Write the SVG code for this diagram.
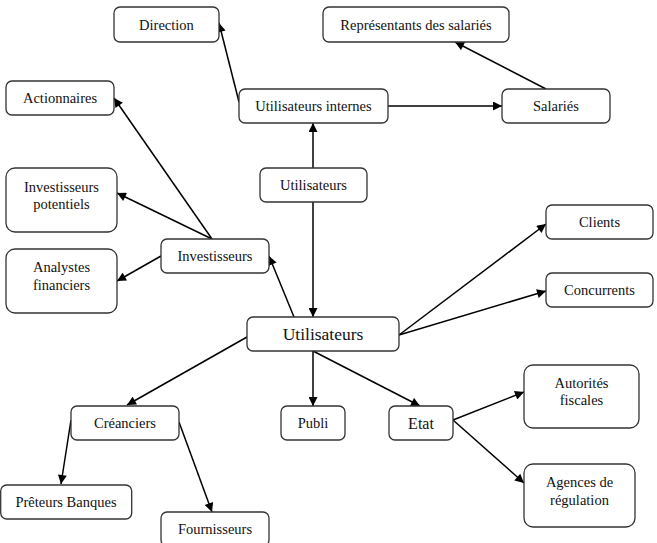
<svg xmlns="http://www.w3.org/2000/svg" width="657" height="543" viewBox="0 0 657 543">
<style>
rect{fill:#fff;stroke:#333;stroke-width:1.3}
text{font-family:'Liberation Serif',Tinos,'Times New Roman','DejaVu Serif',serif;font-size:14.5px;fill:#111;text-anchor:middle}
.big{font-size:17.5px}
#connectors line{stroke:#000;stroke-width:1.5;marker-end:url(#ah)}
</style>
<defs>
<marker id="ah" viewBox="0 0 10 10" refX="10" refY="5" markerWidth="7" markerHeight="6" markerUnits="strokeWidth" orient="auto"><path d="M0,0L10,5L0,10z" fill="#000"/></marker>
</defs>
<rect width="657" height="543" fill="#fff" style="stroke:none"/>
<g id="connectors">
<line x1="239" y1="102" x2="219" y2="23"/>
<line x1="388" y1="106" x2="502" y2="106"/>
<line x1="546" y1="89" x2="455" y2="42"/>
<line x1="313" y1="168" x2="313" y2="123"/>
<line x1="313" y1="202" x2="313" y2="317"/>
<line x1="212" y1="239" x2="114" y2="98"/>
<line x1="212" y1="239" x2="117" y2="193"/>
<line x1="161" y1="256" x2="117" y2="281"/>
<line x1="294" y1="317" x2="269" y2="256"/>
<line x1="399" y1="335" x2="546" y2="224"/>
<line x1="399" y1="335" x2="546" y2="291"/>
<line x1="247" y1="337" x2="127" y2="405"/>
<line x1="313" y1="351" x2="313" y2="406"/>
<line x1="313" y1="351" x2="420" y2="406"/>
<line x1="71" y1="420" x2="61" y2="484"/>
<line x1="179" y1="422" x2="212" y2="512"/>
<line x1="453" y1="420" x2="524" y2="392"/>
<line x1="453" y1="420" x2="524" y2="483"/>
</g>
<g id="direction"><rect x="114" y="7" width="105" height="35" rx="6"/><text x="166.5" y="29.5">Direction</text></g>
<g id="representants"><rect x="323" y="7" width="186" height="35" rx="6"/><text x="416" y="29.5">Représentants des salariés</text></g>
<g id="actionnaires"><rect x="6" y="81" width="108" height="34" rx="6"/><text x="60" y="103">Actionnaires</text></g>
<g id="utilisateurs-internes"><rect x="239" y="89" width="149" height="34" rx="6"/><text x="313.5" y="111">Utilisateurs internes</text></g>
<g id="salaries"><rect x="502" y="89" width="108" height="34" rx="6"/><text x="556" y="111">Salariés</text></g>
<g id="utilisateurs-haut"><rect x="260" y="168" width="107" height="34" rx="6"/><text x="313.5" y="190">Utilisateurs</text></g>
<g id="investisseurs-potentiels"><rect x="6" y="168" width="111" height="64" rx="9"/><text x="61.5" y="192">Investisseurs</text><text x="61.5" y="209">potentiels</text></g>
<g id="analystes"><rect x="6" y="249" width="111" height="64" rx="9"/><text x="61.5" y="272">Analystes</text><text x="61.5" y="290">financiers</text></g>
<g id="investisseurs"><rect x="161" y="239" width="108" height="34" rx="6"/><text x="215" y="261">Investisseurs</text></g>
<g id="clients"><rect x="546" y="205" width="107" height="34" rx="6"/><text x="599.5" y="227">Clients</text></g>
<g id="concurrents"><rect x="546" y="273" width="107" height="34" rx="6"/><text x="599.5" y="295">Concurrents</text></g>
<g id="utilisateurs"><rect x="247" y="317" width="152" height="34" rx="6"/><text class="big" x="323" y="340">Utilisateurs</text></g>
<g id="creanciers"><rect x="71" y="406" width="108" height="34" rx="6"/><text x="125" y="428">Créanciers</text></g>
<g id="publi"><rect x="281" y="406" width="64" height="34" rx="6"/><text x="313" y="428">Publi</text></g>
<g id="etat"><rect x="389" y="406" width="64" height="34" rx="6"/><text x="421" y="429" style="font-size:16px">Etat</text></g>
<g id="autorites"><rect x="524" y="365" width="115" height="63" rx="9"/><text x="581.5" y="388">Autorités</text><text x="581.5" y="405">fiscales</text></g>
<g id="agences"><rect x="524" y="464" width="111" height="63" rx="9"/><text x="579.5" y="487">Agences de</text><text x="579.5" y="505">régulation</text></g>
<g id="preteurs"><rect x="0.7" y="485" width="131" height="34" rx="6"/><text x="66" y="507">Prêteurs Banques</text></g>
<g id="fournisseurs"><rect x="161" y="512" width="108" height="34" rx="6"/><text x="215" y="534">Fournisseurs</text></g>
</svg>
